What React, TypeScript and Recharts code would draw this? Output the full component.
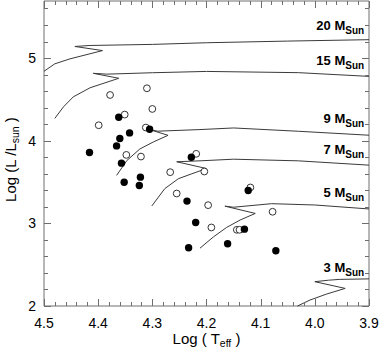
import React from "react";
import { ComposedChart, Scatter, XAxis, YAxis, ReferenceDot } from "recharts";

// evolutionary tracks, [log Teff, log L]
const track20 = [[4.5, 4.84], [4.48, 4.93], [4.452, 4.99], [4.392, 5.09], [4.443, 5.14], [4.415, 5.152], [4.3, 5.165], [4.2, 5.185], [4.05, 5.205], [3.9, 5.222]];
const track15 = [[4.48, 4.27], [4.464, 4.41], [4.446, 4.53], [4.415, 4.64], [4.362, 4.755], [4.409, 4.815], [4.384, 4.805], [4.3, 4.822], [4.2, 4.838], [4.03, 4.823], [3.9, 4.778]];
const track9 = [[4.366, 3.58], [4.347, 3.76], [4.323, 3.9], [4.298, 3.985], [4.271, 4.065], [4.303, 4.13], [4.29, 4.115], [4.214, 4.134], [4.15, 4.154], [4.03, 4.114], [3.9, 4.066]];
const track7 = [[4.301, 3.21], [4.277, 3.42], [4.252, 3.54], [4.227, 3.6], [4.2, 3.663], [4.255, 3.745], [4.21, 3.757], [4.15, 3.776], [4.03, 3.756], [3.9, 3.704]];
const track5 = [[4.212, 2.7], [4.187, 2.837], [4.163, 2.95], [4.138, 3.04], [4.11, 3.12], [4.166, 3.208], [4.15, 3.195], [4.08, 3.238], [4.0, 3.222], [3.9, 3.174]];
const track3 = [[4.032, 2.0], [4.009, 2.072], [3.978, 2.145], [3.944, 2.213], [4.0, 2.294], [3.975, 2.312], [3.954, 2.322], [3.9, 2.328]];

const filledStars = [
  [4.416, 3.857], [4.362, 4.283], [4.36, 4.026], [4.366, 3.937], [4.342, 4.094], [4.305, 4.139],
  [4.357, 3.728], [4.352, 3.498], [4.322, 3.559], [4.324, 3.458], [4.228, 3.8], [4.236, 3.269],
  [4.22, 3.011], [4.233, 2.705], [4.161, 2.753], [4.13, 2.93], [4.123, 3.398], [4.072, 2.669],
];
const openStars = [
  [4.378, 4.553], [4.31, 4.634], [4.3, 4.384], [4.351, 4.316], [4.399, 4.187], [4.312, 4.159],
  [4.348, 3.828], [4.321, 3.808], [4.219, 3.841], [4.267, 3.619], [4.204, 3.627], [4.255, 3.361],
  [4.197, 3.22], [4.191, 2.95], [4.144, 2.922], [4.139, 2.922], [4.119, 3.434], [4.078, 3.14],
];

const massLabels = ["20", "15", "9", "7", "5", "3"];
const massLabelY = [5.342, 4.911, 4.214, 3.844, 3.313, 2.414];

const xMajor = [4.5, 4.4, 4.3, 4.2, 4.1, 4.0, 3.9];
const yMajor = [2, 3, 4, 5];

const xTicks: number[] = [];
for (let i = 0; i <= 30; i++) xTicks.push(Math.round((3.9 + i * 0.02) * 100) / 100);
const yTicks: number[] = [];
for (let i = 0; i <= 18; i++) yTicks.push(Math.round((2 + i * 0.2) * 10) / 10);

const toPts = (arr: number[][]) => arr.map(([x, y]) => ({ x, y }));

const FONT = "'Liberation Sans', Arial, Helvetica, sans-serif";
const FRAME = "#6e6e6e";
const TRACK = "#3a3a3a";

const isXMajor = (v: number) => xMajor.some((m) => Math.abs(m - v) < 1e-6);
const isYMajor = (v: number) => yMajor.some((m) => Math.abs(m - v) < 1e-6);
const crisp = (v: number) => Math.round(v) + 0.5;

const BottomTick = (p: any) => {
  const v = p.payload.value;
  const major = isXMajor(v);
  const x = crisp(p.x);
  return (
    <g>
      <line x1={x} x2={x} y1={p.y} y2={p.y - (major ? 7 : 4)} stroke={FRAME} strokeWidth={1} />
      {major && (
        <text x={p.x} y={p.y + 22} textAnchor="middle" fontSize={14} fontFamily={FONT} fill="#000">
          {v.toFixed(1)}
        </text>
      )}
    </g>
  );
};
const TopTick = (p: any) => {
  const major = isXMajor(p.payload.value);
  const x = crisp(p.x);
  return <line x1={x} x2={x} y1={p.y} y2={p.y + (major ? 7 : 4)} stroke={FRAME} strokeWidth={1} />;
};
const LeftTick = (p: any) => {
  const v = p.payload.value;
  const major = isYMajor(v);
  const y = crisp(p.y);
  return (
    <g>
      <line x1={p.x} x2={p.x + (major ? 7 : 4)} y1={y} y2={y} stroke={FRAME} strokeWidth={1} />
      {major && (
        <text x={p.x - 8} y={p.y} textAnchor="end" dominantBaseline="central" fontSize={14} fontFamily={FONT} fill="#000">
          {v}
        </text>
      )}
    </g>
  );
};
const RightTick = (p: any) => {
  const major = isYMajor(p.payload.value);
  const y = crisp(p.y);
  return <line x1={p.x} x2={p.x - (major ? 7 : 4)} y1={y} y2={y} stroke={FRAME} strokeWidth={1} />;
};

const noDot = () => <g />;
const filledDot = (p: any) => <circle cx={p.cx} cy={p.cy} r={3.7} fill="#000" />;
const openDot = (p: any) => <circle cx={p.cx} cy={p.cy} r={3.4} fill="#fff" stroke="#333" strokeWidth={1} />;

const tracks = [track20, track15, track9, track7, track5, track3];

export default function App() {
  return (
    <div style={{ width: 382, height: 353 }}>
      <style>{"body{margin:0}"}</style>
      <ComposedChart width={382} height={353} margin={{ top: 0, right: 12, bottom: 0, left: 0 }}>
        <XAxis
          xAxisId="b"
          dataKey="x"
          type="number"
          domain={[3.9, 4.5]}
          reversed
          ticks={xTicks}
          interval={0}
          height={47}
          tickSize={0}
          tickMargin={0}
          tickLine={false}
          stroke={FRAME}
          tick={BottomTick}
          label={{
            content: (props: any) => {
              const vb = props.viewBox;
              return (
                <text x={vb.x + vb.width / 2} y={vb.y + 38} textAnchor="middle" fontSize={15} fontFamily={FONT} fill="#000">
                  Log ( T<tspan fontSize={10.5} dy={3}>eff</tspan>
                  <tspan dy={-3}> )</tspan>
                </text>
              );
            },
          }}
        />
        <XAxis
          xAxisId="t"
          orientation="top"
          dataKey="x"
          type="number"
          domain={[3.9, 4.5]}
          reversed
          ticks={xTicks}
          interval={0}
          height={1}
          tickSize={0}
          tickMargin={0}
          tickLine={false}
          stroke={FRAME}
          tick={TopTick}
        />
        <YAxis
          yAxisId="l"
          dataKey="y"
          type="number"
          domain={[2, 5.69]}
          ticks={yTicks}
          interval={0}
          width={44}
          tickSize={0}
          tickMargin={0}
          tickLine={false}
          stroke={FRAME}
          tick={LeftTick}
          label={{
            content: (props: any) => {
              const vb = props.viewBox;
              const cx = vb.x + 16;
              const cy = vb.y + vb.height / 2 + 6;
              return (
                <text x={cx} y={cy} transform={`rotate(-90 ${cx} ${cy})`} textAnchor="middle" fontSize={15} fontFamily={FONT} fill="#000">
                  Log (L /L<tspan fontSize={10.5} dy={3}>sun</tspan>
                  <tspan dy={-3}> )</tspan>
                </text>
              );
            },
          }}
        />
        <YAxis
          yAxisId="r"
          orientation="right"
          dataKey="y"
          type="number"
          domain={[2, 5.69]}
          ticks={yTicks}
          interval={0}
          width={1}
          tickSize={0}
          tickMargin={0}
          tickLine={false}
          stroke={FRAME}
          tick={RightTick}
        />
        {/* invisible series so the top and right frame axes get drawn */}
        <Scatter xAxisId="t" yAxisId="r" data={toPts(track3)} shape={noDot} isAnimationActive={false} />
        {tracks.map((t, i) => (
          <Scatter
            key={"track" + i}
            xAxisId="b"
            yAxisId="l"
            data={toPts(t)}
            fill={TRACK}
            line={{ stroke: TRACK, strokeWidth: 1 }}
            lineType="joint"
            shape={noDot}
            isAnimationActive={false}
          />
        ))}
        <Scatter xAxisId="b" yAxisId="l" data={toPts(openStars)} shape={openDot} isAnimationActive={false} />
        <Scatter xAxisId="b" yAxisId="l" data={toPts(filledStars)} shape={filledDot} isAnimationActive={false} />
        {massLabels.map((m, i) => (
          <ReferenceDot
            key={"lab" + m}
            xAxisId="b"
            yAxisId="l"
            x={3.909}
            y={massLabelY[i]}
            r={0}
            shape={(p: any) => (
              <text x={p.cx} y={p.cy} textAnchor="end" fontFamily={FONT} fontWeight="bold" fontSize={13} fill="#000">
                {m} M<tspan fontSize={10} dy={4}>Sun</tspan>
              </text>
            )}
          />
        ))}
      </ComposedChart>
    </div>
  );
}
